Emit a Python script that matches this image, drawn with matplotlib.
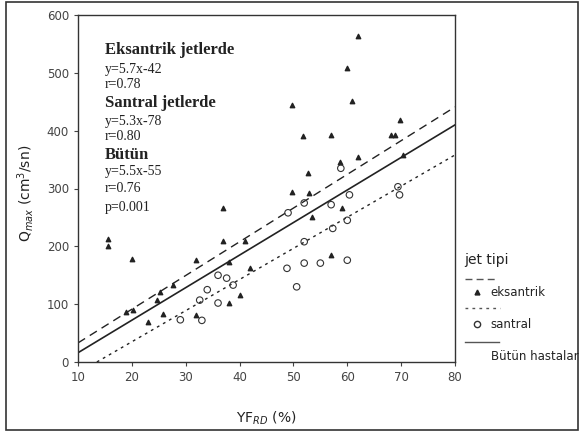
import matplotlib
matplotlib.use("Agg")
import matplotlib.pyplot as plt
from matplotlib.lines import Line2D
from matplotlib.patches import Rectangle

# ---- data ----
eks_x = [15.6, 15.6, 20, 19, 20.2, 24.7, 25.8, 25.2, 27.6, 32, 32, 37, 37, 38, 38, 40, 41, 42,
         49.7, 49.7, 51.7, 52.7, 52.9, 53.4, 57, 57, 58.6, 59, 60, 60.8, 62, 62, 68.2, 68.8,
         69.7, 70.3, 23]
eks_y = [212, 200, 178, 86, 90, 107, 83, 121, 133, 176, 81, 266, 209, 173, 102, 116, 209, 162,
         445, 294, 390, 327, 293, 250, 392, 185, 346, 266, 509, 451, 563, 355, 393, 393,
         418, 358, 70]

san_x = [29, 33, 32.6, 34, 36, 36, 37.6, 38.8, 48.8, 50.6, 49, 52, 52, 52, 55, 57, 57.3,
         58.8, 60, 60.4, 60, 69.4, 69.7]
san_y = [73, 72, 107, 125, 102, 150, 145, 133, 162, 130, 258, 275, 208, 171, 171, 272, 231,
         335, 245, 289, 176, 303, 289]

# regression lines (end points)
eks_line_x = [10, 80]
eks_line_y = [33, 441]
san_line_x = [13.5, 80]
san_line_y = [0, 358]
all_line_x = [10, 80]
all_line_y = [16, 410]

x_ticks = [10, 20, 30, 40, 50, 60, 70, 80]
y_ticks = [0, 100, 200, 300, 400, 500, 600]

ann_lines = [
    ("Eksantrik jetlerde", True),
    ("y=5.7x-42", False),
    ("r=0.78", False),
    ("Santral jetlerde", True),
    ("y=5.3x-78", False),
    ("r=0.80", False),
    ("Bütün", True),
    ("y=5.5x-55", False),
    ("r=0.76", False),
    ("p=0.001", False),
]
ann_y = [50, 69, 84, 103, 121, 136, 155, 172, 189, 207]

fig = plt.figure(figsize=(5.8, 4.32), dpi=100)
ax = fig.add_axes([78/580, 1-362/432, (455-78)/580, (362-15)/432])

ax.plot(eks_line_x, eks_line_y, color="#222222", lw=1.0, ls=(0, (6, 4)))
ax.plot(san_line_x, san_line_y, color="#222222", lw=1.0, ls=(0, (2, 3)))
ax.plot(all_line_x, all_line_y, color="#222222", lw=1.2, ls="-")

ax.scatter(eks_x, eks_y, marker="^", s=10, color="#222222", zorder=3)
ax.scatter(san_x, san_y, marker="o", s=22, facecolors="none", edgecolors="#333333",
           linewidths=0.8, zorder=3)

ax.set_xlim(10, 80)
ax.set_ylim(0, 600)
ax.set_xticks(x_ticks)
ax.set_yticks(y_ticks)
ax.tick_params(labelsize=8.5, colors="#444444", length=3, width=0.8)
for s in ax.spines.values():
    s.set_color("#333333")
    s.set_linewidth(1.0)

ax.set_xlabel("YF$_{RD}$ (%)", fontsize=10, color="#222222", va="center")
ax.xaxis.set_label_coords(0.5, (362-418)/347)
ax.set_ylabel("Q$_{max}$ (cm$^3$/sn)", fontsize=10, color="#222222", va="center")
ax.yaxis.set_label_coords((26-78)/377, (362-193)/347)

# annotation block
for (txt, bold), yy in zip(ann_lines, ann_y):
    fig.text(105/580, 1-yy/432, txt, family="Liberation Serif",
             fontsize=12 if bold else 10, fontweight="bold" if bold else "normal",
             color="#222222", va="center", ha="left")

# legend drawn manually in figure coordinates
def fx(p):
    return p/580
def fy(p):
    return 1-p/432

fig.text(fx(464), fy(260), "jet tipi", fontsize=10, color="#222222", va="center")
fig.add_artist(Line2D([fx(465), fx(495)], [fy(279), fy(279)], color="#555555", lw=1.0,
                      ls=(0, (5, 3))))
fig.add_artist(Line2D([fx(477)], [fy(292)], marker="^", ms=3.5, color="#222222", ls="none"))
fig.text(fx(490), fy(292), "eksantrik", fontsize=8.5, color="#222222", va="center")
fig.add_artist(Line2D([fx(465), fx(500)], [fy(308), fy(308)], color="#555555", lw=1.0,
                      ls=(0, (2, 3))))
fig.add_artist(Line2D([fx(477)], [fy(324)], marker="o", ms=4.5, mfc="none", mec="#333333",
                      ls="none"))
fig.text(fx(490), fy(324), "santral", fontsize=8.5, color="#222222", va="center")
fig.add_artist(Line2D([fx(465), fx(499)], [fy(342), fy(342)], color="#555555", lw=1.0))
fig.text(fx(491), fy(356), "Bütün hastalar", fontsize=8.5, color="#222222", va="center")

# outer frame
fig.add_artist(Rectangle((fx(6), fy(430)), fx(572), (430-2)/432, transform=fig.transFigure,
                         fill=False, ec="#333333", lw=1.2))

fig.savefig("out.png", dpi=100)
